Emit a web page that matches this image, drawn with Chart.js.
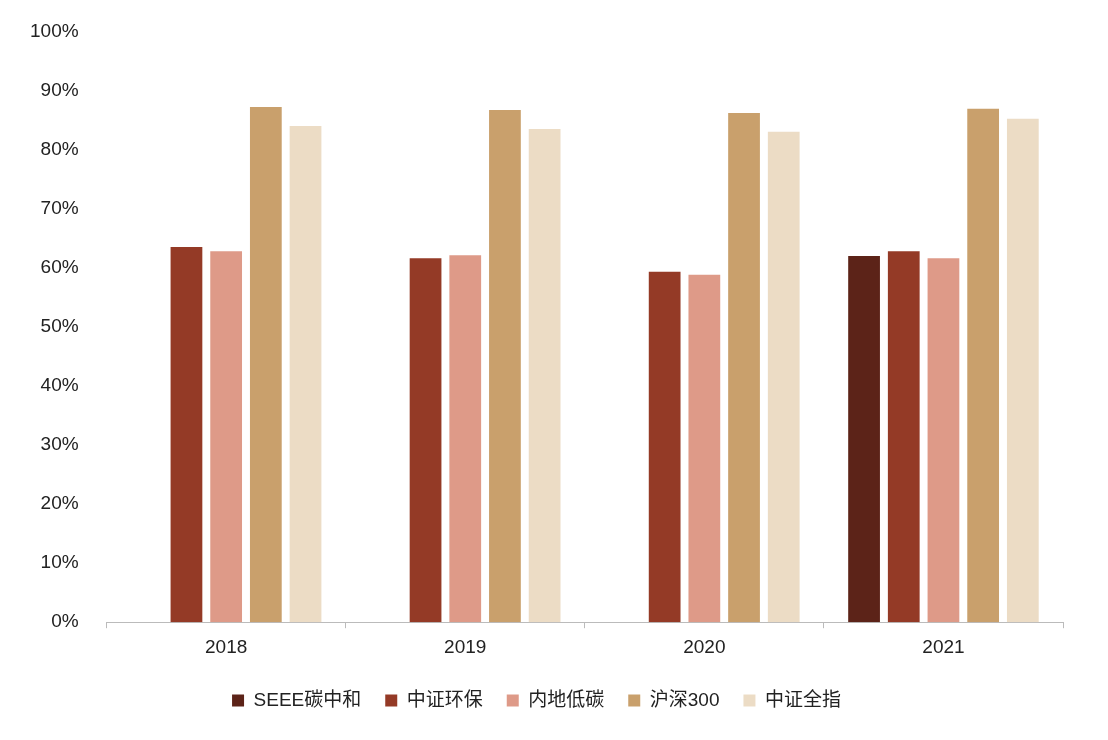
<!DOCTYPE html>
<html><head><meta charset="utf-8">
<script src="https://cdn.jsdelivr.net/npm/chart.js@4"></script>
<style>html,body{margin:0;background:#fff}#w{width:1108px;height:740px}</style>
</head><body><div id="w"><canvas id="c"></canvas></div>
<script>
const categories=['2018','2019','2020','2021'];
const seriesNames=['SEEE碳中和','中证环保','内地低碳','沪深300','中证全指'];
const seee=[null,null,null,62.0];
const hb=[63.5,61.6,59.3,62.8];
const ddt=[62.8,62.1,58.8,61.6];
const hs300=[87.2,86.7,86.2,86.9];
const qz=[84.0,83.5,83.0,85.2];
const colors=['#5c2318','#943a26','#de9a88','#c9a06c','#ecdcc5'];
const all=[seee,hb,ddt,hs300,qz];
new Chart(document.getElementById('c'),{type:'bar',
data:{labels:categories,datasets:all.map((d,i)=>({label:seriesNames[i],data:d,backgroundColor:colors[i],barPercentage:0.8,categoryPercentage:0.83}))},
options:{responsive:true,maintainAspectRatio:false,animation:false,
layout:{padding:{left:10,right:45,top:12,bottom:20}},
plugins:{legend:{position:'bottom',labels:{boxWidth:12,boxHeight:12,padding:24,color:'#222',font:{size:19,family:'Liberation Sans, Noto Sans CJK SC'}}},tooltip:{enabled:false}},
scales:{
x:{grid:{display:true,drawOnChartArea:false,drawTicks:true,tickLength:6,color:'#bbb',offset:true},border:{color:'#bbb'},ticks:{color:'#222',padding:8,font:{size:19,family:'Liberation Sans'}}},
y:{min:0,max:100,grid:{display:false},border:{display:false},ticks:{stepSize:10,color:'#222',padding:20,font:{size:19,family:'Liberation Sans'},callback:v=>v+'%'}}
}}});
</script></body></html>
